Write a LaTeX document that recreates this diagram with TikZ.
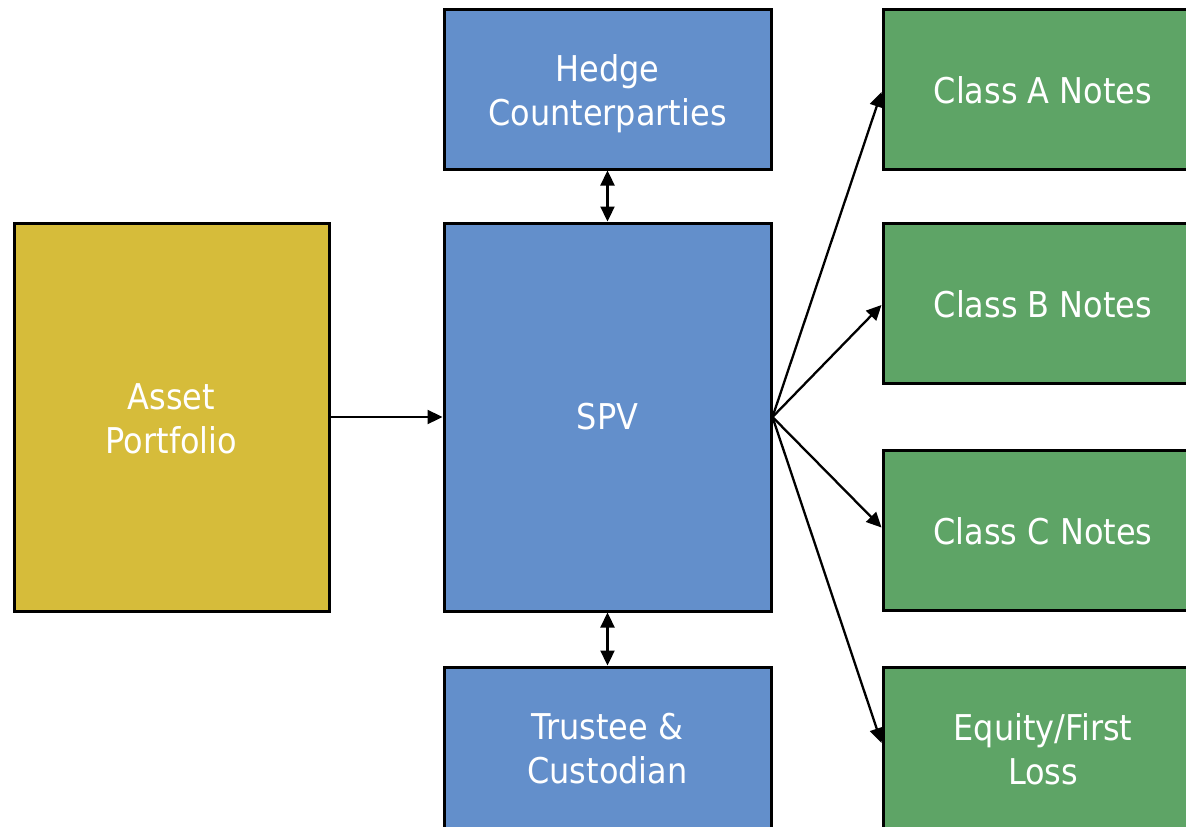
\documentclass[tikz,border=0pt]{standalone}
\usepackage{fontspec}
\setmainfont{DejaVu Sans Condensed}
\usetikzlibrary{arrows.meta}
\definecolor{boxblue}{RGB}{99,143,203}
\definecolor{boxgreen}{RGB}{94,164,102}
\definecolor{boxgold}{RGB}{214,188,58}
\tikzset{
  box/.style={draw=black, line width=3pt, rectangle, inner sep=0pt},
  txt/.style={text=white, align=center, font=\fontsize{35.5}{44}\selectfont, inner sep=0pt},
  bluebox/.style={box, fill=boxblue, minimum width=327pt},
  greenbox/.style={box, fill=boxgreen, minimum width=320pt, minimum height=160pt},
  conn/.style={line width=2.3pt, -{Triangle[length=15pt,width=14pt]}},
  bconn/.style={line width=2.3pt, {Triangle[length=15pt,width=14pt]}-{Triangle[length=15pt,width=14pt]}}
}
\begin{document}
\begin{tikzpicture}[x=1pt,y=-1pt]
\useasboundingbox (0,0) rectangle (1186,827);
\begin{scope}
\clip (0,0) rectangle (1186,827);
\node[box, fill=boxgold, minimum width=315pt, minimum height=388pt,
  label={[txt, yshift=-2pt]center:Asset\\Portfolio}] (asset) at (171.5,417) {};
\node[bluebox, minimum height=160pt,
  label={[txt, yshift=-5pt]center:Hedge\\Counterparties}] (hedge) at (607.5,89) {};
\node[bluebox, minimum height=388pt,
  label={[txt]center:SPV}] (spv) at (607.5,417) {};
\node[bluebox, minimum height=168pt,
  label={[txt, yshift=2pt]center:Trustee \&\\Custodian}] (trustee) at (607.5,751) {};
\node[greenbox, label={[txt, yshift=-1pt]center:Class A Notes}] (ca) at (1043,89) {};
\node[greenbox, label={[txt, yshift=-1pt]center:Class B Notes}] (cb) at (1043,303) {};
\node[greenbox, label={[txt, yshift=-1pt]center:Class C Notes}] (cc) at (1043,530.5) {};
\node[greenbox, minimum height=168pt,
  label={[txt, yshift=2pt]center:Equity/First\\Loss}] (eq) at (1043,751) {};
\end{scope}
\draw[conn] (asset.east) -- (spv.west);
\draw[bconn] (hedge.south) -- (spv.north);
\draw[bconn] (spv.south) -- (trustee.north);
\draw[conn] (spv.east) -- ([yshift=-3pt]ca.west);
\draw[conn] (spv.east) -- ([yshift=-2pt]cb.west);
\draw[conn] (spv.east) -- ([yshift=3pt]cc.west);
\draw[conn] (spv.east) -- ([yshift=8pt]eq.west);
\end{tikzpicture}
\end{document}
